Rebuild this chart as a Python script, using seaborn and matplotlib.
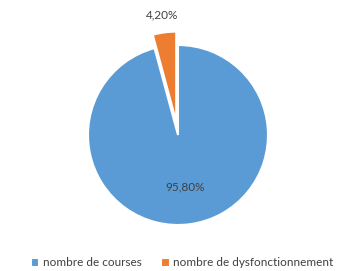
import numpy as np
import matplotlib.pyplot as plt
import seaborn as sns

sns.set_style('white')
plt.rcParams['font.family'] = ['Lato', 'DejaVu Sans']

categories = ['nombre de courses', 'nombre de dysfonctionnement']
values = [95.80, 4.20]
colors = ['#5B9BD5', '#ED7D31']
explode = [0, 0.15]

W, H = 337, 271
fig = plt.figure(figsize=(W / 100, H / 100), dpi=100)
# axes in pixel units: pie centre at (178, 136 from bottom), radius 90 px
ax = fig.add_axes([28 / W, 11 / H, 300 / W, 250 / H])

wedges, texts, autotexts = ax.pie(
    values, colors=colors, explode=explode, startangle=90, counterclock=False,
    autopct=lambda p: '{:.2f}%'.format(p).replace('.', ','), pctdistance=0.58,
    wedgeprops=dict(edgecolor='white', linewidth=1.5),
    textprops=dict(fontsize=8.5, color='#404040'))
ax.set_xlim(-150 / 90, 150 / 90)
ax.set_ylim(-125 / 90, 125 / 90)
ax.set_aspect('equal')

# put the small slice label outside, above its wedge
w = wedges[1]
ang = np.deg2rad((w.theta1 + w.theta2) / 2)
cx, cy = w.center
autotexts[1].set_position((cx + 1.2 * np.cos(ang), cy + 1.2 * np.sin(ang)))

fig.legend(wedges, categories, loc='center', bbox_to_anchor=(0.54, 0.03),
           ncol=2, frameon=False, fontsize=8.5, handlelength=0.75, handleheight=0.75,
           columnspacing=1.6, handletextpad=0.3, labelcolor='#404040')

fig.savefig('out.png', dpi=100)
